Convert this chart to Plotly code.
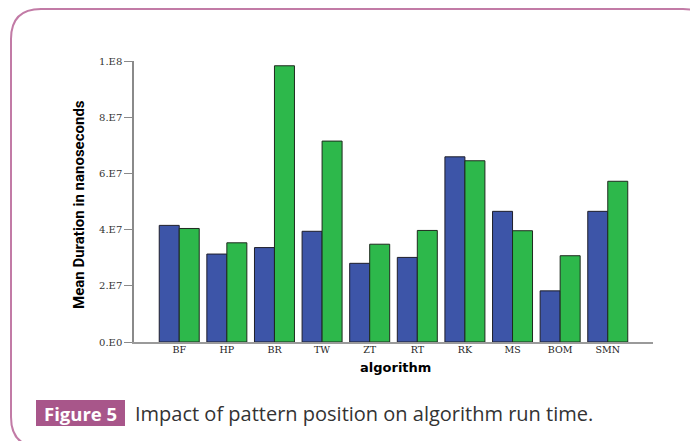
import plotly.graph_objects as go

categories = ["BF", "HP", "BR", "TW", "ZT", "RT", "RK", "MS", "BOM", "SMN"]
series_a = [4.15e7, 3.13e7, 3.36e7, 3.94e7, 2.80e7, 3.01e7, 6.59e7, 4.65e7, 1.82e7, 4.65e7]
series_b = [4.04e7, 3.53e7, 9.83e7, 7.15e7, 3.48e7, 3.97e7, 6.45e7, 3.96e7, 3.07e7, 5.72e7]
y_tickvals = [0, 2e7, 4e7, 6e7, 8e7, 1e8]
y_ticktext = ["0.E0", "2.E7", "4.E7", "6.E7", "8.E7", "1.E8"]

# page has an 8px body margin; figure is sized to fill the rest of the window
OFF = 8
W, H = 698 - OFF, 441 - OFF
L, R, T, B = 134 - OFF, 45, 61 - OFF, 99
PW, PH = W - L - R, H - T - B


def px(x):
    # page pixel -> paper
    return (x - OFF - L) / PW


def py(y):
    return (H - B - (y - OFF)) / PH


fig = go.Figure()
fig.add_trace(go.Bar(x=categories, y=series_a, marker=dict(color="#3D55A8", line=dict(color="#1e1e2a", width=1)),
                     showlegend=False, name="A"))
fig.add_trace(go.Bar(x=categories, y=series_b, marker=dict(color="#2DB84B", line=dict(color="#1e2a1e", width=1)),
                     showlegend=False, name="B"))

# rounded frame
x0, x1, y0, y1, r = 11, 713, 9, 447, 30
pts = [
    ("M", [(x0 + r, y0)]),
    ("L", [(x1 - r, y0)]),
    ("Q", [(x1, y0), (x1, y0 + r)]),
    ("L", [(x1, y1 - r)]),
    ("Q", [(x1, y1), (x1 - r, y1)]),
    ("L", [(x0 + r, y1)]),
    ("Q", [(x0, y1), (x0, y1 - r)]),
    ("L", [(x0, y0 + r)]),
    ("Q", [(x0, y0), (x0 + r, y0)]),
]
path = " ".join(cmd + " " + " ".join(f"{px(a):.5f},{py(b):.5f}" for a, b in p) for cmd, p in pts) + " Z"

shapes = [
    dict(type="path", xref="paper", yref="paper", path=path, line=dict(color="#C27BA6", width=2)),
    dict(type="rect", xref="paper", yref="paper", x0=px(36), x1=px(125), y0=py(426), y1=py(400),
         fillcolor="#A8568A", line=dict(width=0)),
]

annotations = [
    dict(text="<b>Figure 5</b>", xref="paper", yref="paper", x=px(80.5), y=py(413), showarrow=False,
         xanchor="center", yanchor="middle", font=dict(family="Open Sans", size=18.5, color="white")),
    dict(text="Impact of pattern position on algorithm run time.", xref="paper", yref="paper",
         x=px(133), y=py(413), showarrow=False, xanchor="left", yanchor="middle",
         font=dict(family="Open Sans", size=20, color="#333333")),
    dict(text="<b>Mean Duration in nanoseconds</b>", xref="paper", yref="paper", x=px(79), y=py(205),
         showarrow=False, textangle=-90, xanchor="center", yanchor="middle",
         font=dict(family="Liberation Sans Narrow, Roboto, sans-serif", size=15, color="black")),
    dict(text="<b>algorithm</b>", xref="paper", yref="paper", x=px(395), y=py(367),
         showarrow=False, xanchor="center", yanchor="middle",
         font=dict(family="DejaVu Sans", size=13, color="black")),
]

fig.update_layout(
    width=W, height=H,
    margin=dict(l=L, r=R, t=T, b=B),
    paper_bgcolor="white", plot_bgcolor="white",
    barmode="group", bargap=0.16, bargroupgap=0,
    shapes=shapes, annotations=annotations,
    xaxis=dict(type="category", range=[-0.95, 9.95], showline=True, linecolor="#9a9a9a", linewidth=1.5,
               ticks="", showgrid=False, zeroline=False, ticklabelstandoff=-2,
               tickfont=dict(family="DejaVu Serif", size=9.5, color="#222222")),
    yaxis=dict(range=[0, 1e8], tickvals=y_tickvals, ticktext=y_ticktext, showline=True, linecolor="#8a8a8a",
               linewidth=1.5, ticks="outside", ticklen=8, tickcolor="#8a8a8a", tickwidth=1,
               showgrid=False, zeroline=False,
               tickfont=dict(family="DejaVu Serif", size=10, color="#333333")),
)

fig.write_html("out.html")
